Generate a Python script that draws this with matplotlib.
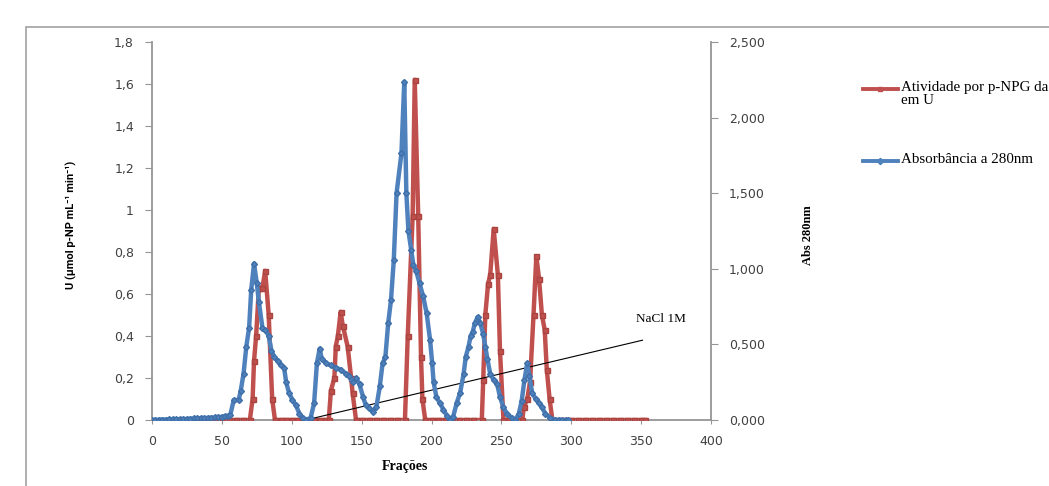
import matplotlib.pyplot as plt
from matplotlib.lines import Line2D
from matplotlib.patches import Rectangle
from matplotlib.ticker import FuncFormatter, MultipleLocator

# Atividade (U, eixo esquerdo)
red_x = [27, 30, 35, 40, 45, 50, 55, 60, 65, 70,
         72, 73, 74.5, 76.5, 79, 81, 83.5, 86, 88,
         92, 96, 100, 104, 108, 112, 116, 120, 124, 126.5,
         128, 130.5, 131.5, 133, 135, 136.5, 140, 142.5, 143.5, 146,
         150, 155, 160, 165, 170, 175, 181,
         183, 186.5, 188, 190.5, 192.5, 193.5, 195.5,
         200, 205, 210, 215, 220, 225, 230, 236,
         237, 238.5, 240.5, 242, 244.5, 247.5, 249, 251.5,
         255, 260, 265,
         266, 268.5, 270.5, 273, 275, 277, 279, 281, 282.5, 284.5, 286.5,
         290, 295, 300, 305, 310, 315, 320, 325, 330, 335, 340, 345, 350, 353]
red_y = [0, 0, 0, 0, 0, 0, 0, 0, 0, 0,
         0.10, 0.28, 0.40, 0.63, 0.63, 0.71, 0.50, 0.10, 0,
         0, 0, 0, 0, 0, 0, 0, 0, 0, 0,
         0.14, 0.20, 0.35, 0.40, 0.515, 0.45, 0.35, 0.20, 0.13, 0,
         0, 0, 0, 0, 0, 0, 0,
         0.40, 0.97, 1.62, 0.97, 0.30, 0.10, 0,
         0, 0, 0, 0, 0, 0, 0, 0,
         0.19, 0.50, 0.65, 0.69, 0.91, 0.69, 0.33, 0,
         0, 0, 0,
         0.06, 0.10, 0.18, 0.50, 0.78, 0.67, 0.50, 0.43, 0.24, 0.10, 0,
         0, 0, 0, 0, 0, 0, 0, 0, 0, 0, 0, 0, 0, 0]

# Absorbancia 280 nm (eixo direito)
blue_x = [0, 2.5, 5, 7.5, 10, 12.5, 15, 17.5, 20, 22.5,
          25, 27.5, 30, 32.5, 35, 37.5, 40, 42.5, 45, 47.5, 50, 52.5,
          54.5, 56, 58.5, 62, 63.5, 65.5, 67.5, 69.5, 71, 73, 75, 76.5,
          79, 81, 83.5, 85.5, 87.5, 90, 92, 94.5, 96, 98, 100.5, 103,
          105.5, 108, 110, 113.5, 116, 118, 120, 121.5, 124.5, 128, 131.5,
          135, 139, 141, 143.5, 146, 148.5, 151, 153, 155.5, 158, 160.5,
          163, 165, 167, 169, 171, 173, 175, 178.5, 180.5, 182, 183.5,
          185.5, 187, 189, 191.5, 194, 196.5, 199, 200.5, 201.5, 203.5,
          206, 208.5, 211, 213, 215.5, 218, 220.5, 223, 224.5, 226.5, 228,
          229.5, 231, 233, 235, 237, 238.5, 240, 242, 244.5, 247, 249,
          251.5, 254, 257.5, 260, 262.5, 264.5, 266.5, 268.5, 270, 272,
          274.5, 277, 279, 281.5, 285, 288.5, 291, 293.5, 296, 298]
blue_y = [0.000, 0.001, 0.002, 0.003, 0.003, 0.004, 0.004, 0.005, 0.005, 0.006,
          0.007, 0.008, 0.010, 0.011, 0.012, 0.013, 0.014, 0.015, 0.017, 0.019, 0.021, 0.024,
          0.028, 0.033, 0.132, 0.132, 0.194, 0.306, 0.486, 0.611, 0.861, 1.035, 0.903, 0.778,
          0.611, 0.597, 0.556, 0.458, 0.417, 0.389, 0.361, 0.347, 0.250, 0.181, 0.132, 0.097,
          0.042, 0.014, 0.000, 0.014, 0.111, 0.375, 0.472, 0.403, 0.375, 0.361, 0.347,
          0.333, 0.306, 0.292, 0.250, 0.278, 0.236, 0.153, 0.097, 0.078, 0.056, 0.083,
          0.222, 0.375, 0.417, 0.639, 0.792, 1.056, 1.500, 1.764, 2.236, 1.500, 1.250,
          1.125, 1.028, 0.986, 0.903, 0.819, 0.708, 0.528, 0.375, 0.250, 0.153,
          0.111, 0.069, 0.028, 0.000, 0.022, 0.111, 0.181, 0.306, 0.417, 0.486, 0.556,
          0.583, 0.639, 0.681, 0.639, 0.569, 0.486, 0.403, 0.306, 0.264, 0.236, 0.153,
          0.083, 0.042, 0.014, 0.000, 0.042, 0.125, 0.264, 0.375, 0.292, 0.181,
          0.139, 0.111, 0.083, 0.042, 0.014, 0.000, 0.000, 0.000, 0.000, 0.000]

# gradiente NaCl 1M
nacl_x = [110, 351]
nacl_y = [0, 0.38]

RED = '#C0504D'
BLUE = '#4F81BD'
GRAY = '#959595'
TXT = '#404040'
W, H = 1049, 486

fig = plt.figure(figsize=(W / 100, H / 100), dpi=100)
fig.add_artist(Rectangle((26 / W, -0.1), 1.2, 1 - 27 / H + 0.1,
                         transform=fig.transFigure, fill=False,
                         edgecolor='#a8a8a8', lw=1.3))

ax = fig.add_axes([152 / W, 66 / H, 559 / W, 378 / H])
ax2 = ax.twinx()

ax.plot(red_x, red_y, color=RED, lw=3.2, marker='s', ms=3.6, mec='#A94440', zorder=3)
ax.plot(nacl_x, nacl_y, color='black', lw=0.8, zorder=4)
ax.text(346, 0.48, 'NaCl 1M', fontsize=9.5, family='Liberation Serif',
        va='center', ha='left')
ax2.plot(blue_x, blue_y, color=BLUE, lw=3.2, marker='D', ms=3, mec='#3F6FA8', zorder=3)

ax.set_xlim(0, 400)
ax.set_ylim(0, 1.8)
ax2.set_ylim(0, 2.5)
ax.xaxis.set_major_locator(MultipleLocator(50))
ax.yaxis.set_major_locator(MultipleLocator(0.2))
ax2.yaxis.set_major_locator(MultipleLocator(0.5))

ax.yaxis.set_major_formatter(FuncFormatter(lambda v, p: ('%g' % round(v, 1)).replace('.', ',')))
ax2.yaxis.set_major_formatter(FuncFormatter(lambda v, p: ('%.3f' % v).replace('.', ',')))

for a in (ax, ax2):
    for s in a.spines.values():
        s.set_visible(False)
ax.spines['left'].set_visible(True)
ax.spines['bottom'].set_visible(True)
ax2.spines['right'].set_visible(True)
for s in (ax.spines['left'], ax.spines['bottom'], ax2.spines['right']):
    s.set_color(GRAY)
    s.set_linewidth(1.3)

ax.tick_params(axis='y', colors=GRAY, labelcolor=TXT, labelsize=9, length=5, pad=8)
ax.tick_params(axis='x', colors=GRAY, labelcolor=TXT, labelsize=9, length=3, pad=8)
ax2.tick_params(axis='y', colors=GRAY, labelcolor=TXT, labelsize=9, length=5, pad=8)

ax.set_xlabel('Frações', family='Liberation Serif', fontweight='bold', fontsize=10)
ax.xaxis.set_label_coords((405 - 152) / 559, -(460 - 420) / 378)
ax.set_ylabel('U (µmol p-NP mL⁻¹ min⁻¹)', family=['Roboto', 'DejaVu Sans'],
              fontweight='bold', fontsize=8)
ax.yaxis.set_label_coords(-(152 - 77) / 559, (420 - 225) / 378)
ax2.set_ylabel('Abs 280nm', family='Liberation Serif', fontweight='bold', fontsize=9)
ax2.yaxis.set_label_coords(1 + (802 - 711) / 559, (420 - 235) / 378)

# legenda
for yy, col, mk, label in [(89, RED, 's', 'Atividade por p-NPG da\nem U'),
                           (161, BLUE, 'D', 'Absorbância a 280nm')]:
    fy = 1 - yy / H
    fig.add_artist(Line2D([863 / W, 880 / W, 898 / W], [fy, fy, fy],
                          transform=fig.transFigure, color=col, lw=2.8,
                          marker=mk, ms=3.2, markevery=[1]))
    fig.text(901 / W, fy + 0.016, label, family='Liberation Serif', fontsize=10.8,
             va='top', ha='left', linespacing=0.95)

fig.savefig('out.png', dpi=100)
